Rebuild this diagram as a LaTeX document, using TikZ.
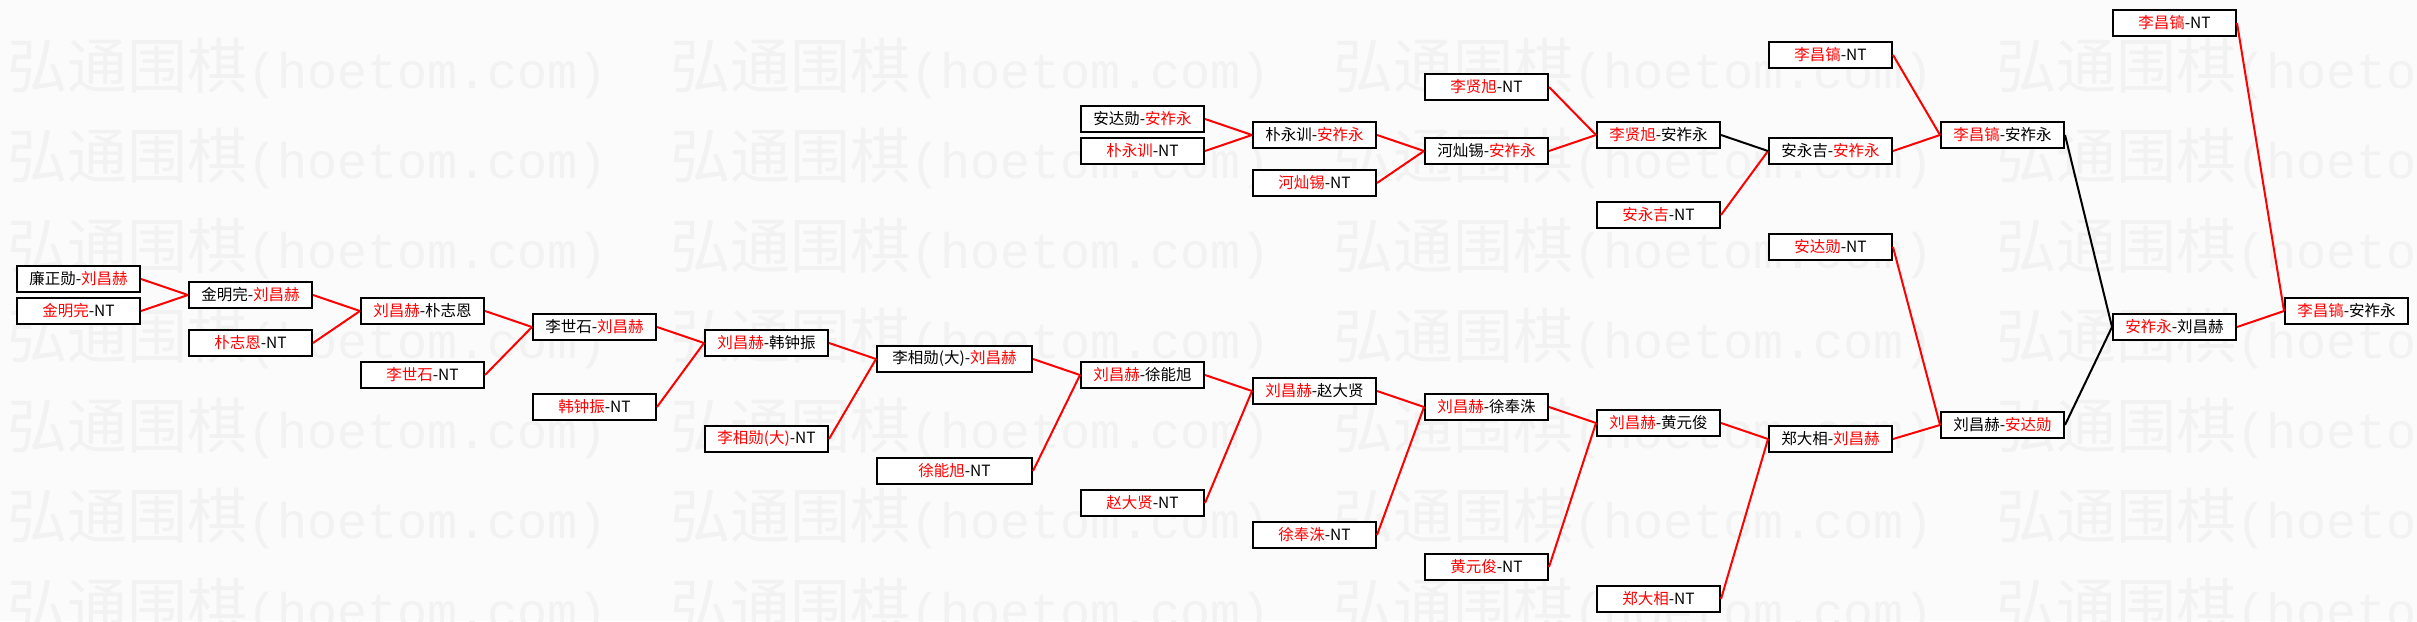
\documentclass[tikz,border=0pt]{standalone}
\usepackage{fontspec}
\setmainfont{Noto Sans CJK SC}
\newfontfamily\wmmono{Liberation Mono}
\usepackage{tikz}
\usetikzlibrary{positioning}
\definecolor{bgcol}{RGB}{251,251,251}
\definecolor{wmcol}{RGB}{242,242,242}
\newcommand{\rn}[1]{\textcolor{red}{#1}}

\begin{document}
\begin{tikzpicture}[x=1pt, y=-1pt,
  box/.style={draw, fill=white, line width=2pt, minimum width=123pt, minimum height=26pt, inner sep=0pt, anchor=west, font=\fontsize{15.5}{16}\selectfont},
  wide/.style={box, minimum width=155pt},
  wm/.style={anchor=base west, inner sep=0pt, text=wmcol, font=\fontsize{60}{60}\selectfont},
  rl/.style={draw=red, line width=2pt},
  bl/.style={draw=black, line width=2pt}]
\path[use as bounding box, fill=bgcol] (0,0) rectangle (2417,621);
\clip (0,0) rectangle (2417,621);
% watermark
\foreach \r in {0,...,6} \foreach \c in {0,...,3}
  \node[wm] (wm-\r-\c) at (7+663*\c, 88+90*\r) {弘通围棋{\wmmono\fontsize{50}{50}\selectfont (hoetom.com)}};
% main chain
\node[box] (w0) at (16,279) {廉正勋-\rn{刘昌赫}};
\node[box] (n0) at (16,311) {\rn{金明完}-NT};
\node[box] (w1) at (188,295) {金明完-\rn{刘昌赫}};
\node[box] (n1) at (188,343) {\rn{朴志恩}-NT};
\node[box] (w2) at (360,311) {\rn{刘昌赫}-朴志恩};
\node[box] (n2) at (360,375) {\rn{李世石}-NT};
\node[box] (w3) at (532,327) {李世石-\rn{刘昌赫}};
\node[box] (n3) at (532,407) {\rn{韩钟振}-NT};
\node[box] (w4) at (704,343) {\rn{刘昌赫}-韩钟振};
\node[box] (n4) at (704,439) {\rn{李相勋(大)}-NT};
\node[wide] (w5) at (876,359) {李相勋(大)-\rn{刘昌赫}};
\node[wide] (n5) at (876,471) {\rn{徐能旭}-NT};
\node[box] (w6) at (1080,375) {\rn{刘昌赫}-徐能旭};
\node[box] (n6) at (1080,503) {\rn{赵大贤}-NT};
\node[box] (w7) at (1252,391) {\rn{刘昌赫}-赵大贤};
\node[box] (n7) at (1252,535) {\rn{徐奉洙}-NT};
\node[box] (w8) at (1424,407) {\rn{刘昌赫}-徐奉洙};
\node[box] (n8) at (1424,567) {\rn{黄元俊}-NT};
\node[box] (w9) at (1596,423) {\rn{刘昌赫}-黄元俊};
\node[box] (n9) at (1596,599) {\rn{郑大相}-NT};
\node[box] (w10) at (1768,439) {郑大相-\rn{刘昌赫}};
\node[box] (s10) at (1768,247) {\rn{安达勋}-NT};
\node[box] (ad) at (1940,425) {刘昌赫-\rn{安达勋}};
% upper chain
\node[box] (u6) at (1080,119) {安达勋-\rn{安祚永}};
\node[box] (v6) at (1080,151) {\rn{朴永训}-NT};
\node[box] (u7) at (1252,135) {朴永训-\rn{安祚永}};
\node[box] (v7) at (1252,183) {\rn{河灿锡}-NT};
\node[box] (u8) at (1424,151) {河灿锡-\rn{安祚永}};
\node[box] (v8) at (1424,87) {\rn{李贤旭}-NT};
\node[box] (u9) at (1596,135) {\rn{李贤旭}-安祚永};
\node[box] (v9) at (1596,215) {\rn{安永吉}-NT};
\node[box] (u10) at (1768,151) {安永吉-\rn{安祚永}};
\node[box] (v10) at (1768,55) {\rn{李昌镐}-NT};
\node[box] (lc) at (1940,135) {\rn{李昌镐}-安祚永};
% final rounds
\node[box] (sf) at (2112,327) {\rn{安祚永}-刘昌赫};
\node[box] (lt) at (2112,23) {\rn{李昌镐}-NT};
\node[box] (fin) at (2284,311) {\rn{李昌镐}-安祚永};
\foreach \x/\y in {w0/w1,n0/w1,w1/w2,n1/w2,w2/w3,n2/w3,w3/w4,n3/w4,w4/w5,n4/w5,w5/w6,n5/w6,w6/w7,n6/w7,w7/w8,n7/w8,w8/w9,n8/w9,w9/w10,n9/w10,w10/ad,s10/ad}
  \draw[rl] (\x.east) -- (\y.west);
\foreach \x/\y in {u6/u7,v6/u7,u7/u8,v7/u8,u8/u9,v8/u9,v9/u10,u10/lc,v10/lc,sf/fin,lt/fin}
  \draw[rl] (\x.east) -- (\y.west);
\foreach \x/\y in {u9/u10,lc/sf,ad/sf}
  \draw[bl] (\x.east) -- (\y.west);
\end{tikzpicture}
\end{document}
